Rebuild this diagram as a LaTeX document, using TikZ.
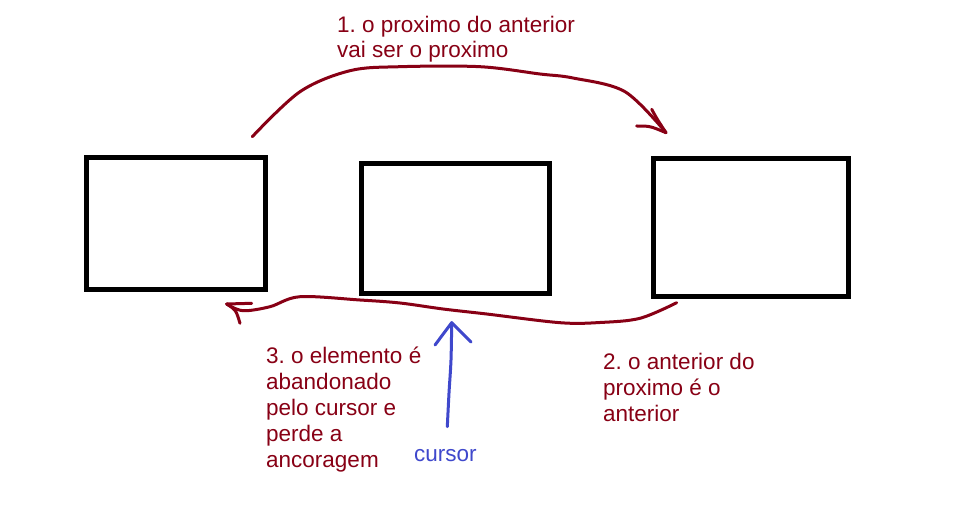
\documentclass[tikz,border=0pt]{standalone}
\usepackage{fontspec}
\setmainfont{Liberation Sans}
\frenchspacing
\definecolor{darkred}{HTML}{880015}
\definecolor{indigo}{HTML}{3F48CC}
\begin{document}
\begin{tikzpicture}[x=1pt,y=-1pt,
  box/.style={draw=black,line width=5pt,minimum width=0pt,inner sep=0pt},
  redline/.style={draw=darkred,line width=3pt,line cap=round,line join=round},
  blueline/.style={draw=indigo,line width=3pt,line cap=round,line join=round},
  lbl/.style={font=\fontsize{22.5}{26}\selectfont,align=left,inner sep=0pt,anchor=base west,text=darkred}]
\useasboundingbox[fill=white] (0,0) rectangle (977,505);
% boxes
\draw[box] (86.5,157.5) rectangle (265,289);
\node[inner sep=0,minimum width=178.5pt,minimum height=131.5pt] (box1) at (175.75,223.25) {};
\draw[box] (361.7,163.3) rectangle (549.3,293.3);
\node[inner sep=0,minimum width=187.6pt,minimum height=130pt] (box2) at (455.5,228.3) {};
\draw[box] (653.3,159) rectangle (848.3,296.3);
\node[inner sep=0,minimum width=195pt,minimum height=137.3pt] (box3) at (750.8,227.65) {};
% top arrow
\coordinate (s1) at (252.3,136.7);
\coordinate (t1) at (666,132.7);
\coordinate (h1a) at (636.7,126);
\coordinate (h1b) at (651.7,109.3);
\draw[redline] plot[smooth,tension=0.55] coordinates {(s1) (300,91.7) (350,70.7) (400,66.7) (480,66.7) (540,74) (573,78) (625,91.7) (t1)};
\draw[redline] (h1a) .. controls (650,126) .. (t1);
\draw[redline] (h1b) .. controls (657,119) .. (t1);
% bottom arrow
\coordinate (s2) at (676.7,302.7);
\coordinate (t2) at (226.7,304);
\coordinate (h2a) at (251.7,303.3);
\coordinate (h2b) at (240,323.3);
\draw[redline] plot[smooth,tension=0.55] coordinates {(s2) (640,318.3) (600,322.5) (560,322.7) (486.7,314) (443,309) (400,303) (360,300) (300,296.7) (270,306.7) (243,310.7) (t2)};
\draw[redline] (t2) -- (h2a);
\draw[redline] (t2) .. controls (236,310) .. (h2b);
% cursor arrow
\coordinate (c0) at (447.3,426.7);
\coordinate (ct) at (451.7,322.7);
\draw[blueline] plot[smooth] coordinates {(c0) (449,393) (451,360) (ct)};
\draw[blueline] (ct) -- (435,345);
\draw[blueline] (ct) -- (471,342);
% labels (anchored at the baseline of their last line)
\node[lbl,font=\fontsize{22.5}{25.5}\selectfont] (l1) at (337,57.8) {1. o proximo do anterior\\vai ser o proximo};
\node[lbl] (l2) at (603,421.5) {2. o anterior do\\proximo é o\\anterior};
\node[lbl] (l3) at (266,467) {3. o elemento é\\abandonado\\pelo cursor e\\perde a\\ancoragem};
\node[lbl,text=indigo] (cur) at (414,461.7) {cursor};
\end{tikzpicture}
\end{document}
